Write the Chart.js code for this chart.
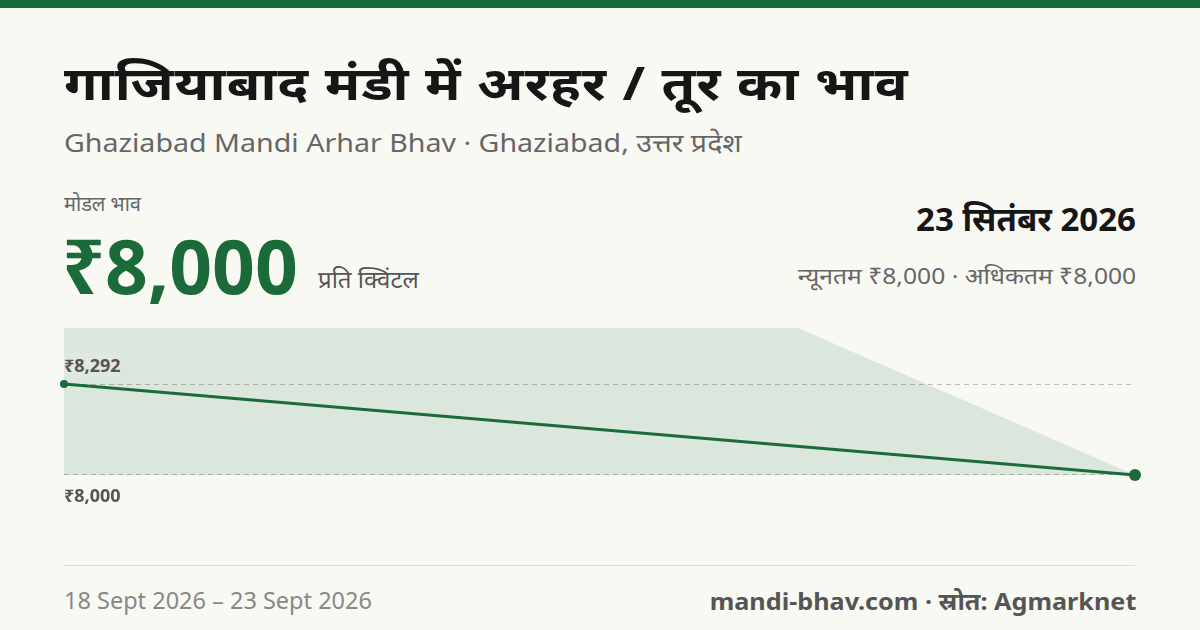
<!DOCTYPE html>
<html><head><meta charset="utf-8">
<script src="https://cdn.jsdelivr.net/npm/chart.js@4/dist/chart.umd.min.js"></script>
<style>
body{margin:0;width:1200px;height:630px;background:#f9f9f4;font-family:"Noto Sans",sans-serif;position:relative;overflow:hidden}
.bar{position:absolute;left:0;top:0;width:1200px;height:8px;background:#1b6a3a}
.t{position:absolute;white-space:nowrap}
#wrap{position:absolute;left:54px;top:318px;width:1091px;height:257px}
.sep{position:absolute;left:64px;top:565px;width:1071px;height:1px;background:#dcdcd6}
</style></head><body>
<div class="bar"></div>
<div class="t" style="left:64px;top:50px;font-size:47px;letter-spacing:1px;font-weight:700;color:#161616;transform:scaleX(1.16);transform-origin:left">गाजियाबाद मंडी में अरहर / तूर का भाव</div>
<div class="t" style="left:64px;top:124px;font-size:26px;color:#666;transform:scaleX(1.1);transform-origin:left">Ghaziabad Mandi Arhar Bhav · Ghaziabad, उत्तर प्रदेश</div>
<div class="t" style="left:64px;top:190px;font-size:20px;color:#666">मोडल भाव</div>
<div class="t" style="left:62px;top:214px;font-size:75px;font-weight:700;color:#1b6a3a">₹8,000</div>
<div class="t" style="left:318px;top:262px;font-size:24px;color:#555">प्रति क्विंटल</div>
<div class="t" style="right:64px;top:196px;font-size:33px;font-weight:700;color:#161616">23 सितंबर 2026</div>
<div class="t" style="right:64px;top:260px;font-size:22px;color:#666;transform:scaleX(1.12);transform-origin:right">न्यूनतम ₹8,000 · अधिकतम ₹8,000</div>
<div class="sep"></div>
<div id="wrap"><canvas id="c"></canvas></div>
<div class="t" style="left:64px;top:353px;font-size:18px;font-weight:700;color:#555;background:#dfe9e0">₹8,292</div>
<div class="t" style="left:64px;top:483px;font-size:18px;font-weight:700;color:#555">₹8,000</div>
<div class="t" style="left:64px;top:584px;font-size:23.5px;color:#888">18 Sept 2026 – 23 Sept 2026</div>
<div class="t" style="right:64px;top:584px;font-size:24px;font-weight:700;color:#555;transform:scaleX(1.05);transform-origin:right">mandi-bhav.com · स्रोत: Agmarknet</div>
<script>
const days=[0,5];
const modal=[8292,8000];
const minP=[8000,8000];
const maxP=[9500,8000];
const gridVals=[8000,8292];
const toXY=(a)=>a.map((v,i)=>({x:days[i],y:v}));
new Chart(document.getElementById('c'),{type:'line',data:{datasets:[
{data:toXY(minP),borderWidth:0,pointRadius:0,fill:false},
{data:toXY(maxP),borderWidth:0,pointRadius:0,fill:'-1',backgroundColor:'rgba(27,106,58,0.13)'},
{data:toXY(modal),borderColor:'#1b6a3a',borderWidth:3,pointRadius:[4,6],pointBackgroundColor:'#1b6a3a',pointBorderWidth:0,fill:false,clip:false}
]},options:{responsive:true,maintainAspectRatio:false,animation:false,
layout:{padding:10,autoPadding:false},plugins:{legend:{display:false},tooltip:{enabled:false}},
scales:{x:{type:'linear',min:0,max:5,display:false},
y:{min:7711,max:8472,display:true,ticks:{display:false},
afterBuildTicks:(s)=>{s.ticks=gridVals.map(v=>({value:v}))},afterFit:(s)=>{s.width=0},
grid:{color:'#bdbdb5',lineWidth:1,tickLength:0,drawTicks:false},border:{display:false,dash:[5,4]}}}}});
</script>
</body></html>
